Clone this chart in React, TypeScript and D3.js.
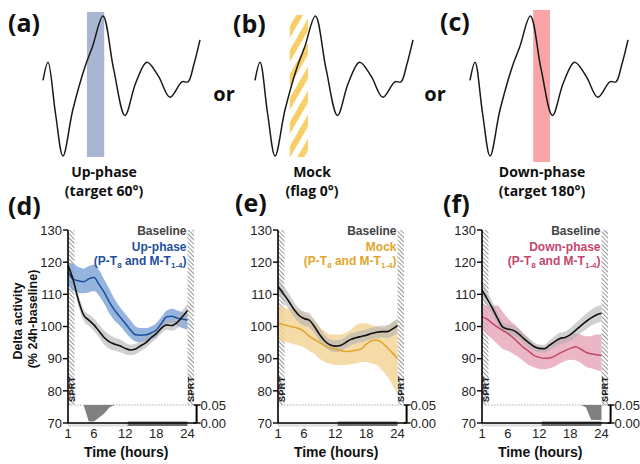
import React from 'react';
import * as d3 from 'd3';

// ---------- data ----------
const hours = [1, 2, 3, 4, 5, 6, 7, 8, 9, 10, 11, 12, 13, 14, 15, 16, 17, 18, 19, 20, 21, 22, 23, 24];
const xTicks = [1, 6, 12, 18, 24];
const yTicks = [70, 80, 90, 100, 110, 120, 130];
const pTicks = [0.05, 0.0];
const pTickLabels = ['0.05', '0.00'];
const lightPhase = [1, 12.5];
const darkPhase = [12.5, 24];
const sprtLeft = [1, 2.25];
const sprtRight = [24, 25.25];
const pAxisHour = 25.75;

// panel (d) Up-phase
const upMean = [117, 114.7, 114.2, 113.9, 114.8, 115.2, 113, 110.5, 107.5, 105, 103, 101, 99, 97.4, 97.3, 97.4, 98, 98.9, 101, 103, 103.2, 102.6, 102.3, 102];
const upUpper = [120, 119.5, 118.5, 118, 118.8, 119.2, 117.5, 114.5, 111.5, 108.5, 106, 104, 102, 100, 99.5, 99.5, 100, 101, 103, 105, 105.5, 105, 104.5, 104];
const upLower = [113, 111, 110.5, 110.3, 110.6, 111, 109.5, 107, 104, 101.8, 100.2, 98.3, 96.5, 95.3, 95.1, 95.3, 96, 96.8, 99, 101, 101, 100.2, 99.5, 99];
const baseMeanD = [119, 114.5, 108.2, 103.6, 102, 100.5, 98.5, 96.5, 95.2, 94.5, 94, 93.2, 92.7, 93, 94, 95, 96.5, 97.8, 99.5, 100.5, 100.3, 101.2, 103, 105];
const baseSemD = [1.5, 1.6, 1.8, 1.8, 1.8, 2, 2, 2.2, 2.2, 2, 2, 1.8, 1.6, 1.6, 1.6, 1.6, 1.6, 1.6, 1.6, 1.6, 1.6, 1.8, 2, 2];
const pValD = [0.3, 0.2, 0.1, 0.05, 0.004, 0.004, 0.015, 0.027, 0.044, 0.06, 0.2, 0.4, 0.5, 0.5, 0.5, 0.5, 0.5, 0.5, 0.5, 0.5, 0.5, 0.5, 0.5, 0.5];

// panel (e) Mock
const mockMean = [101, 100.6, 100.2, 99.8, 99.4, 98.5, 97, 96, 95, 94, 93.4, 93, 92.5, 92.2, 92.3, 92.6, 93, 94.5, 95.6, 95.8, 95, 93.5, 91.8, 90];
const mockUpper = [106.5, 106, 105.5, 105.5, 105, 104, 103, 102, 100, 98.5, 97.5, 97.5, 97.5, 98, 99, 100.5, 101, 101, 100.5, 100, 99.5, 100, 101, 102];
const mockLower = [95.5, 95.3, 95, 94.5, 94.2, 93.5, 92.5, 91.5, 90, 89, 88.5, 88, 88, 88, 88.3, 88.5, 89, 89, 88.5, 88, 86.5, 84.5, 82, 79];
const baseMeanE = [112.4, 110.3, 108, 105.5, 103.5, 102.5, 102, 100, 97.5, 95.5, 94.3, 93.9, 94.1, 95, 96, 96.5, 96.9, 97.3, 97.8, 98.2, 98.4, 98.4, 99.2, 100.3];
const baseSemE = [2.5, 2.5, 2.5, 2.3, 2.2, 2.2, 2.2, 2, 2, 1.8, 1.8, 1.8, 1.8, 1.8, 1.8, 1.8, 1.8, 1.8, 1.8, 1.8, 1.8, 2, 2.2, 2.3];
const pValE = [0.5, 0.5, 0.5, 0.5, 0.5, 0.5, 0.5, 0.5, 0.5, 0.5, 0.5, 0.5, 0.5, 0.5, 0.5, 0.5, 0.5, 0.5, 0.5, 0.5, 0.5, 0.5, 0.5, 0.5];

// panel (f) Down-phase
const downMean = [103, 102.3, 101, 99.8, 98.8, 97.8, 96.5, 95, 93.5, 92.3, 91, 90.4, 90.1, 90.2, 90.8, 91.7, 92.5, 93.2, 93.7, 93, 92, 91.5, 91.2, 91.1];
const downUpper = [106.5, 106.5, 106.5, 106.5, 104.5, 102.5, 101, 99.5, 97.8, 96, 94.5, 93.8, 93.5, 94, 95, 96, 96.8, 97.5, 97.8, 97.5, 97, 97, 97.5, 97.5];
const downLower = [99, 97.5, 96, 94.5, 93, 92.5, 91.5, 90.5, 89.2, 88, 87.3, 86.8, 86.7, 87, 87.6, 88.5, 89.3, 89.7, 89.5, 88.7, 87.5, 87, 86.5, 86];
const baseMeanF = [111.3, 108.6, 105.7, 102.5, 99.8, 99.2, 98.8, 97.8, 96.3, 95, 93.8, 93.2, 93.1, 94.2, 95.3, 96.3, 96.6, 97.5, 98.8, 100.2, 101.5, 102.7, 103.6, 104.1];
const baseSemF = [2.5, 2.3, 2, 1.8, 1.6, 1.5, 1.5, 1.5, 1.5, 1.5, 1.3, 1.2, 1.2, 1.5, 1.7, 1.8, 1.8, 2, 2.2, 2.3, 2.4, 2.5, 2.6, 2.6];
const pValF = [0.5, 0.5, 0.5, 0.5, 0.5, 0.5, 0.5, 0.5, 0.5, 0.5, 0.5, 0.5, 0.5, 0.5, 0.5, 0.5, 0.5, 0.5, 0.5, 0.3, 0.044, 0.009, 0.008, 0.008];

// waveform illustration (phase units 0..100, amplitude 0..100)
const waveT = [0, 3.2, 8, 12.7, 19, 26.8, 31.5, 38.2, 45, 52.2, 59, 66.2, 73.5, 80.9, 88.5, 92.4, 96, 100];
const waveV = [54, 67, 30, 0, 33, 64, 78, 100, 62, 29, 52, 67, 57, 42, 53, 53, 65, 83];
const stimWindows = [[28, 39], [22, 33.5], [40, 50.6]];

// ---------- scales ----------
const yV = d3.scaleLinear().domain([70, 130]).range([423, 230]);
const yP = d3.scaleLinear().domain([0, 0.05]).range([423, 405]);
const yW = d3.scaleLinear().domain([0, 100]).range([156, 16]);

const SANS = "'Liberation Sans', Arial, sans-serif";
const OPEN = "'Open Sans', 'Noto Sans', sans-serif";

function Wave({ x0, x1, win, kind }: { x0: number; x1: number; win: number[]; kind: string }) {
  const x = d3.scaleLinear().domain([0, 100]).range([x0, x1]);
  const line = d3.line<number>().x((t) => x(t)).y((_, i) => yW(waveV[i])).curve(d3.curveCatmullRom.alpha(0.5));
  const rx = x(win[0]);
  const rw = x(win[1]) - x(win[0]);
  let fill = '#a8b6d3';
  if (kind === 'mock') fill = 'url(#stripes)';
  if (kind === 'down') fill = '#f9a5a8';
  return (
    <g>
      <rect x={rx} y={kind === 'down' ? 10 : kind === 'mock' ? 15 : 12} width={rw} height={kind === 'down' ? 152 : kind === 'mock' ? 142 : 145} fill={fill} />
      <path d={line(waveT) || ''} fill="none" stroke="#1a1a1a" strokeWidth={1.5} />
    </g>
  );
}

type PanelProps = {
  x0: number;
  mean: number[];
  upper: number[];
  lower: number[];
  baseMean: number[];
  baseSem: number[];
  pvals: number[];
  lineColor: string;
  bandColor: string;
  name: string;
  yTitle?: boolean;
};

function Panel(p: PanelProps) {
  const x = d3.scaleLinear().domain([1, 24]).range([p.x0, p.x0 + 119.5]);
  const curve = d3.curveMonotoneX;
  const band = d3.area<number>().x((h) => x(h)).y0((_, i) => yV(p.lower[i])).y1((_, i) => yV(p.upper[i])).curve(curve);
  const baseBand = d3.area<number>().x((h) => x(h)).y0((_, i) => yV(p.baseMean[i] - p.baseSem[i])).y1((_, i) => yV(p.baseMean[i] + p.baseSem[i])).curve(curve);
  const meanLine = d3.line<number>().x((h) => x(h)).y((_, i) => yV(p.mean[i])).curve(curve);
  const baseLine = d3.line<number>().x((h) => x(h)).y((_, i) => yV(p.baseMean[i])).curve(curve);
  const pArea = d3.area<number>().x((h) => x(h)).y0(yP(0.05)).y1((_, i) => yP(Math.min(p.pvals[i], 0.05)));
  const xr = x(pAxisHour);
  const xl = x(1);
  const legX = x(24) - 1;
  const stripTop = yV(130);
  const stripBot = yP(0.05);
  return (
    <g>
      {/* hatched SPRT strips */}
      {[sprtLeft, sprtRight].map((s, k) => (
        <g key={k}>
          <rect x={x(s[0])} y={stripTop} width={x(s[1]) - x(s[0])} height={stripBot - stripTop} fill="url(#hatch)" />
          <text
            transform={`translate(${(x(s[0]) + x(s[1])) / 2 + 0.5},${stripBot - 3}) rotate(-90)`}
            dy="0.36em"
            fontFamily={SANS}
            fontWeight="bold"
            fontSize={9}
            fill="#222"
            letterSpacing={0.4}
          >
            SPRT
          </text>
        </g>
      ))}
      {/* bands and lines */}
      <path d={band(hours) || ''} fill={p.bandColor} opacity={0.8} />
      <path d={baseBand(hours) || ''} fill="#b0b0b0" opacity={0.6} />
      <path d={meanLine(hours) || ''} fill="none" stroke={p.lineColor} strokeWidth={1.5} />
      <path d={baseLine(hours) || ''} fill="none" stroke="#111" strokeWidth={1.6} />
      {/* p-value */}
      <line x1={xl} x2={xr} y1={yP(0.05)} y2={yP(0.05)} stroke="#aaa" strokeWidth={1} strokeDasharray="1.5 1.5" />
      <path d={pArea(hours) || ''} fill="#808080" />
      {/* day/night bars */}
      <rect x={x(lightPhase[0])} y={423} width={x(lightPhase[1]) - x(lightPhase[0])} height={3} fill="#e6e6e6" stroke="#c4c4c4" strokeWidth={0.6} />
      <rect x={x(darkPhase[0])} y={421.5} width={x(darkPhase[1]) - x(darkPhase[0])} height={4.5} fill="#6f6f6f" />
      {/* y axis */}
      <line x1={xl} x2={xl} y1={yV(130)} y2={yV(70)} stroke="#000" strokeWidth={1.6} />
      {yTicks.map((t) => (
        <g key={t}>
          <line x1={xl - 5} x2={xl} y1={yV(t)} y2={yV(t)} stroke="#000" strokeWidth={1.4} />
          <text x={xl - 6} y={yV(t)} dy="0.36em" textAnchor="end" fontFamily={SANS} fontSize={13} fill="#222">
            {t}
          </text>
        </g>
      ))}
      {/* x axis */}
      <line x1={xl} x2={xr} y1={423} y2={423} stroke="#000" strokeWidth={1.6} />
      {xTicks.map((t) => (
        <text key={t} x={x(t)} y={438} textAnchor="middle" fontFamily={SANS} fontSize={13} fill="#222">
          {t}
        </text>
      ))}
      <text x={x(12.2)} y={457} textAnchor="middle" fontFamily={SANS} fontWeight="bold" fontSize={14} fill="#111">
        Time (hours)
      </text>
      {/* p axis */}
      <line x1={xr} x2={xr} y1={yP(0.05)} y2={yP(0)} stroke="#000" strokeWidth={2} />
      {pTicks.map((t, i) => (
        <g key={i}>
          <line x1={xr - 3} x2={xr + 4} y1={yP(t)} y2={yP(t)} stroke="#000" strokeWidth={1.4} />
          <text x={xr + 4} y={yP(t)} dy="0.36em" fontFamily={SANS} fontSize={13} fill="#222">
            {pTickLabels[i]}
          </text>
        </g>
      ))}
      {/* legend */}
      <text x={legX} y={235} textAnchor="end" fontFamily={SANS} fontWeight="bold" fontSize={12} fill="#444">
        Baseline
      </text>
      <text x={legX} y={251} textAnchor="end" fontFamily={SANS} fontWeight="bold" fontSize={12} fill={p.lineColor}>
        {p.name}
      </text>
      <text x={legX} y={265} textAnchor="end" fontFamily={SANS} fontWeight="bold" fontSize={12} fill={p.lineColor}>
        (P-T
        <tspan fontSize={8} dy={3}>8</tspan>
        <tspan dy={-3}> and M-T</tspan>
        <tspan fontSize={8} dy={3}>1-4</tspan>
        <tspan dy={-3}>)</tspan>
      </text>
      {p.yTitle && (
        <g fontFamily={SANS} fontWeight="bold" fontSize={12.5} fill="#111" textAnchor="middle">
          <text transform="translate(17,321) rotate(-90)" dy="0.36em">Delta activity</text>
          <text transform="translate(32,319) rotate(-90)" dy="0.36em">(% 24h-baseline)</text>
        </g>
      )}
    </g>
  );
}

export default function App() {
  return (
    <svg width={640} height={464} style={{ position: 'absolute', left: 0, top: 0, background: '#fff' }}>
      <defs>
        <pattern id="hatch" patternUnits="userSpaceOnUse" width={3} height={3} patternTransform="rotate(-45)">
          <rect width={3} height={3} fill="#fff" />
          <line x1={0.5} y1={0} x2={0.5} y2={3} stroke="#8c8c8c" strokeWidth={0.9} />
        </pattern>
        <pattern id="stripes" patternUnits="userSpaceOnUse" width={12} height={12} patternTransform="rotate(30)">
          <rect width={6} height={12} fill="#f8d06a" />
        </pattern>
      </defs>
      <rect width={640} height={464} fill="#fff" />

      {/* top waveforms */}
      <Wave x0={43} x1={200} win={stimWindows[0]} kind="up" />
      <Wave x0={255} x1={413} win={stimWindows[1]} kind="mock" />
      <Wave x0={470} x1={628} win={stimWindows[2]} kind="down" />

      <g fontFamily={OPEN} fontWeight="bold" fill="#111">
        <text x={8} y={32} fontSize={25}>(a)</text>
        <text x={233} y={33} fontSize={25}>(b)</text>
        <text x={440} y={31} fontSize={25}>(c)</text>
        <text x={8} y={215} fontSize={25}>(d)</text>
        <text x={235} y={212} fontSize={25}>(e)</text>
        <text x={443} y={213} fontSize={25}>(f)</text>
        <text x={224} y={101} fontSize={20} textAnchor="middle">or</text>
        <text x={435} y={101} fontSize={20} textAnchor="middle">or</text>
        <g fontSize={14} textAnchor="middle">
          <text x={104} y={177}>Up-phase</text>
          <text x={104} y={196}>(target 60°)</text>
          <text x={312} y={177}>Mock</text>
          <text x={312} y={196}>(flag 0°)</text>
          <text x={542} y={177}>Down-phase</text>
          <text x={542} y={196}>(target 180°)</text>
        </g>
      </g>

      <Panel x0={68} mean={upMean} upper={upUpper} lower={upLower} baseMean={baseMeanD} baseSem={baseSemD} pvals={pValD}
        lineColor="#1f4f9e" bandColor="#7aa3d6" name="Up-phase" yTitle />
      <Panel x0={278} mean={mockMean} upper={mockUpper} lower={mockLower} baseMean={baseMeanE} baseSem={baseSemE} pvals={pValE}
        lineColor="#e2a52a" bandColor="#f3d292" name="Mock" />
      <Panel x0={482} mean={downMean} upper={downUpper} lower={downLower} baseMean={baseMeanF} baseSem={baseSemF} pvals={pValF}
        lineColor="#c4466c" bandColor="#e6a4b6" name="Down-phase" />
    </svg>
  );
}
